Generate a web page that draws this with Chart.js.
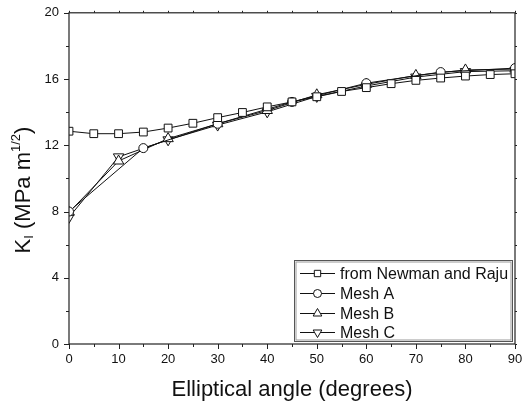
<!DOCTYPE html>
<html>
<head>
<meta charset="utf-8">
<script src="https://cdn.jsdelivr.net/npm/chart.js@4"></script>
<style>
  html, body { margin: 0; padding: 0; background: #fff; }
  #wrap { width: 526px; height: 405px; }
</style>
</head>
<body>
<div id="wrap"><canvas id="myChart" width="526" height="405"></canvas></div>
<script>
// angles (degrees)
var anglesNewman = [0, 5, 10, 15, 20, 25, 30, 35, 40, 45, 50, 55, 60, 65, 70, 75, 80, 85, 90];
var anglesMeshA = [0, 15, 30, 45, 60, 75, 90];
var anglesMeshBC = [0, 10, 20, 30, 40, 50, 60, 70, 80, 90];

// K_I values (MPa m^1/2)
var kNewman = [12.85, 12.70, 12.70, 12.80, 13.04, 13.33, 13.67, 13.98, 14.32, 14.62, 14.93, 15.25, 15.48, 15.72, 15.92, 16.06, 16.18, 16.27, 16.32];
var kMeshA = [8.00, 11.83, 13.30, 14.62, 15.75, 16.42, 16.66];
var kMeshB = [7.95, 11.05, 12.40, 13.30, 14.10, 15.05, 15.68, 16.22, 16.55, 16.60];
var kMeshC = [7.65, 11.30, 12.33, 13.22, 14.02, 14.95, 15.58, 16.12, 16.45, 16.50];

var xTicks = [0, 10, 20, 30, 40, 50, 60, 70, 80, 90];
var yTicks = [0, 4, 8, 12, 16, 20];

var FONT = "'Liberation Sans', Arial, sans-serif";
var INK = '#111';

function pts(xs, ys) {
    return xs.map(function (x, i) { return { x: x, y: ys[i] }; });
}

function series(label, xs, ys, style, radius, rotation, legendRadius) {
    return {
        label: label,
        data: pts(xs, ys),
        borderColor: INK,
        borderWidth: 1,
        backgroundColor: '#fff',
        pointStyle: style,
        pointRadius: radius,
        pointRotation: rotation || 0,
        pointBorderColor: INK,
        pointBackgroundColor: '#fff',
        pointBorderWidth: 1,
        legendRadius: legendRadius,
        tension: 0,
        fill: false
    };
}

// frame, tick marks, y title and legend box
var decor = {
    id: 'decor',
    afterDraw: function (chart) {
        var ctx = chart.ctx;
        var a = chart.chartArea;
        var xs = chart.scales.x, ys = chart.scales.y;
        ctx.save();
        ctx.strokeStyle = '#222';
        ctx.lineWidth = 1.2;
        ctx.strokeRect(a.left, a.top, a.right - a.left, a.bottom - a.top);

        ctx.lineWidth = 1;
        ctx.beginPath();
        for (var v = 0; v <= 90; v += 5) {
            var px = Math.round(xs.getPixelForValue(v)) + 0.5;
            var len = v % 10 === 0 ? 5 : 3;
            ctx.moveTo(px, a.bottom); ctx.lineTo(px, a.bottom + len);
            ctx.moveTo(px, a.top); ctx.lineTo(px, a.top - 2);
        }
        for (var w = 0; w <= 20; w += 2) {
            var py = Math.round(ys.getPixelForValue(w)) + 0.5;
            var l2 = w % 4 === 0 ? 5 : 3;
            ctx.moveTo(a.left, py); ctx.lineTo(a.left - l2, py);
            ctx.moveTo(a.right, py); ctx.lineTo(a.right + 2, py);
        }
        ctx.stroke();

        // y axis title with subscript and superscript
        var parts = [
            { t: 'K', s: 22, dy: 0 },
            { t: 'I', s: 13, dy: 5 },
            { t: ' (MPa m', s: 22, dy: 0 },
            { t: '1/2', s: 13, dy: -8 },
            { t: ')', s: 22, dy: 0 }
        ];
        var total = 0;
        parts.forEach(function (p) {
            ctx.font = p.s + 'px ' + FONT;
            p.w = ctx.measureText(p.t).width;
            total += p.w;
        });
        ctx.translate(24, 190);
        ctx.rotate(-Math.PI / 2);
        ctx.fillStyle = INK;
        ctx.textBaseline = 'middle';
        ctx.textAlign = 'left';
        var cx = -total / 2;
        parts.forEach(function (p) {
            ctx.font = p.s + 'px ' + FONT;
            ctx.fillText(p.t, cx, p.dy);
            cx += p.w;
        });
        ctx.restore();

        // legend
        ctx.save();
        var bx = 294.5, by = 260.5, bw = 218, bh = 81;
        ctx.fillStyle = '#fff';
        ctx.fillRect(bx, by, bw, bh);
        ctx.strokeStyle = '#555';
        ctx.lineWidth = 1;
        ctx.strokeRect(bx, by, bw, bh);
        ctx.strokeStyle = '#999';
        ctx.strokeRect(bx + 1.5, by + 1.5, bw - 3, bh - 3);
        var rows = [273, 293, 313, 332];
        chart.data.datasets.forEach(function (ds, i) {
            var ry = rows[i] + 0.5;
            ctx.strokeStyle = INK;
            ctx.lineWidth = 1;
            ctx.beginPath();
            ctx.moveTo(300, ry); ctx.lineTo(335, ry);
            ctx.stroke();
            ctx.fillStyle = '#fff';
            Chart.helpers.drawPoint(ctx, {
                pointStyle: ds.pointStyle,
                rotation: ds.pointRotation,
                radius: ds.legendRadius,
                borderWidth: 1
            }, 317.5, ry);
            ctx.fillStyle = INK;
            ctx.font = '16px ' + FONT;
            ctx.textBaseline = 'middle';
            ctx.textAlign = 'left';
            ctx.fillText(ds.label, 340, ry + 1);
        });
        ctx.restore();
    }
};

var ctx = document.getElementById('myChart').getContext('2d');
var myChart = new Chart(ctx, {
    type: 'line',
    data: {
        datasets: [
            series('from Newman and Raju', anglesNewman, kNewman, 'rect', 5.5, 0, 4.5),
            series('Mesh A', anglesMeshA, kMeshA, 'circle', 4.5, 0, 4),
            series('Mesh B', anglesMeshBC, kMeshB, 'triangle', 6, 0, 5),
            series('Mesh C', anglesMeshBC, kMeshC, 'triangle', 6, 180, 5)
        ]
    },
    options: {
        responsive: false,
        animation: false,
        layout: { padding: { left: 0, right: 11, top: 12, bottom: 0 } },
        plugins: {
            legend: { display: false },
            tooltip: { enabled: false }
        },
        scales: {
            x: {
                type: 'linear',
                min: 0,
                max: 90,
                afterFit: function (s) { s.height = 61; },
                afterBuildTicks: function (s) { s.ticks = xTicks.map(function (v) { return { value: v }; }); },
                grid: { display: false, drawTicks: true, tickLength: 5 },
                border: { display: false },
                ticks: { padding: 3, color: INK, font: { family: FONT, size: 13 }, maxRotation: 0 },
                title: {
                    display: true,
                    text: 'Elliptical angle (degrees)',
                    color: INK,
                    font: { family: FONT, size: 22 },
                    padding: { top: 0, bottom: 2 }
                }
            },
            y: {
                min: 0,
                max: 20,
                afterFit: function (s) { s.width = 69; },
                afterBuildTicks: function (s) { s.ticks = yTicks.map(function (v) { return { value: v }; }); },
                grid: { display: false, drawTicks: true, tickLength: 5 },
                border: { display: false },
                ticks: { padding: 5, color: INK, font: { family: FONT, size: 13 } }
            }
        }
    },
    plugins: [decor]
});
</script>
</body>
</html>
